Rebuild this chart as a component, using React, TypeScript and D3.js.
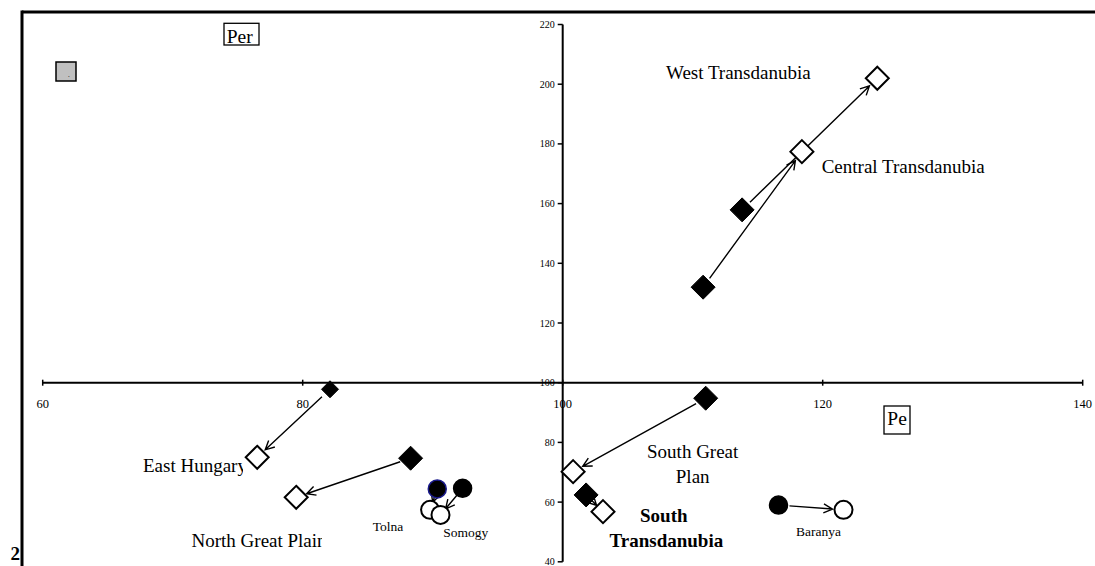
import * as d3 from 'd3';

// Regions (diamonds): filled = earlier year, open = later year
const regionNames = ['West Transdanubia', 'Central Transdanubia', 'East Hungary', 'North Great Plain', 'South Great Plain', 'South Transdanubia'];
const regionFromX = [113.8, 110.8, 82.1, 88.3, 111.0, 101.8];
const regionFromY = [157.9, 132.0, 97.8, 74.7, 94.8, 62.4];
const regionToX = [124.2, 118.4, 76.5, 79.5, 100.8, 103.1];
const regionToY = [202.0, 177.4, 75.0, 61.6, 70.2, 56.8];

// Counties (circles)
const countyNames = ['Tolna', 'Somogy', 'Baranya'];
const countyFromX = [90.35, 92.3, 116.6];
const countyFromY = [64.4, 64.6, 59.0];
const countyToX = [89.8, 90.6, 121.6];
const countyToY = [57.4, 55.7, 57.4];

const xTicks = [60, 80, 100, 120, 140];
const yTicks = [40, 60, 80, 100, 120, 140, 160, 180, 200, 220];

const W = 1095;
const H = 566;
const FONT = '"Liberation Serif", "Times New Roman", serif';

const x = d3.scaleLinear().domain([60, 140]).range([42.7, 1082.7]);
const y = d3.scaleLinear().domain([40, 220]).range([561.8, 24.5]);

function arrow(x0: number, y0: number, x1: number, y1: number, s: number, e: number) {
    const dx = x1 - x0;
    const dy = y1 - y0;
    const len = Math.sqrt(dx * dx + dy * dy);
    const ux = dx / len;
    const uy = dy / len;
    const ax = x0 + ux * s;
    const ay = y0 + uy * s;
    const bx = x1 - ux * e;
    const by = y1 - uy * e;
    const a = (27 * Math.PI) / 180;
    const L = 10;
    const ang = Math.atan2(-uy, -ux);
    const p1 = [bx + L * Math.cos(ang + a), by + L * Math.sin(ang + a)];
    const p2 = [bx + L * Math.cos(ang - a), by + L * Math.sin(ang - a)];
    const path = d3.path();
    path.moveTo(ax, ay);
    path.lineTo(bx, by);
    path.moveTo(p1[0], p1[1]);
    path.lineTo(bx, by);
    path.lineTo(p2[0], p2[1]);
    return path.toString();
}

function diamond(cx: number, cy: number, r: number) {
    return `M${cx},${cy - r}L${cx + r},${cy}L${cx},${cy + r}L${cx - r},${cy}Z`;
}

export default function App() {
    const lineStyle = { fill: 'none', stroke: '#000', strokeWidth: 1.4 };
    return (
        <svg width={W} height={H} style={{ position: 'absolute', left: 0, top: 0, background: '#fff' }} fontFamily={FONT}>
            <defs>
                <clipPath id='clipEH'><rect x={0} y={0} width={243} height={H} /></clipPath>
                <clipPath id='clipNGP'><rect x={0} y={0} width={322} height={H} /></clipPath>
            </defs>
            <rect x={0} y={0} width={W} height={H} fill='#fff' />

            {/* frame */}
            <line x1={22} y1={12} x2={W} y2={12} stroke='#000' strokeWidth={3} />
            <line x1={22} y1={10.5} x2={22} y2={H} stroke='#000' strokeWidth={3} />
            <text x={10.5} y={560} fontSize={19} fontWeight='bold'>2</text>

            {/* x axis */}
            <line x1={x(60)} y1={y(100)} x2={x(140)} y2={y(100)} stroke='#000' strokeWidth={2} />
            {xTicks.map(t => (
                <g key={'xt' + t}>
                    <line x1={x(t)} y1={y(100) - 3} x2={x(t)} y2={y(100) + 3} stroke='#000' strokeWidth={1.5} />
                    <text x={x(t)} y={408} fontSize={12.5} textAnchor='middle'>{t}</text>
                </g>
            ))}

            {/* y axis */}
            <line x1={x(100)} y1={y(40)} x2={x(100)} y2={y(220)} stroke='#000' strokeWidth={2} />
            {yTicks.map(t => (
                <g key={'yt' + t}>
                    <line x1={x(100) - 5} y1={y(t)} x2={x(100)} y2={y(t)} stroke='#000' strokeWidth={1.5} />
                    <text x={x(100) - 8} y={y(t) + 3.5} fontSize={10} textAnchor='end'>{t}</text>
                </g>
            ))}

            {/* arrows */}
            {regionNames.map((n, i) => {
                const x0 = x(regionFromX[i]), y0 = y(regionFromY[i]);
                const x1 = x(regionToX[i]), y1 = y(regionToY[i]);
                const d = Math.hypot(x1 - x0, y1 - y0);
                const s = d < 40 ? 8 : 11;
                const e = d < 40 ? 9 : 11;
                return <path key={'ra' + n} d={arrow(x0, y0, x1, y1, s, e)} {...lineStyle} />;
            })}
            {countyNames.map((n, i) => {
                const x0 = x(countyFromX[i]), y0 = y(countyFromY[i]);
                const x1 = x(countyToX[i]), y1 = y(countyToY[i]);
                const d = Math.hypot(x1 - x0, y1 - y0);
                const s = d < 40 ? 4 : 11;
                const e = d < 40 ? 8 : 11;
                return <path key={'ca' + n} d={arrow(x0, y0, x1, y1, s, e)} {...lineStyle} />;
            })}

            {/* open markers (later year) */}
            {regionNames.map((n, i) => (
                <path key={'ro' + n} d={diamond(x(regionToX[i]), y(regionToY[i]), 11.5)} fill='#fff' stroke='#000' strokeWidth={2} />
            ))}
            {countyNames.map((n, i) => (
                <circle key={'co' + n} cx={x(countyToX[i])} cy={y(countyToY[i])} r={9} fill='#fff' stroke='#000' strokeWidth={2} />
            ))}

            {/* filled markers (earlier year) */}
            {regionNames.map((n, i) => (
                <path key={'rf' + n} d={diamond(x(regionFromX[i]), y(regionFromY[i]), n === 'East Hungary' ? 8.5 : 12)} fill='#000' stroke='#000' strokeWidth={1} />
            ))}
            {countyNames.map((n, i) => (
                <circle key={'cf' + n} cx={x(countyFromX[i])} cy={y(countyFromY[i])} r={9} fill='#000' stroke={n === 'Tolna' ? '#1a1a8c' : '#000'} strokeWidth={1.5} />
            ))}

            {/* labels */}
            <g fontSize={19}>
                <text x={666} y={78.5}>West Transdanubia</text>
                <text x={821.7} y={173.3}>Central Transdanubia</text>
                <text x={143} y={472} clipPath='url(#clipEH)'>East Hungary</text>
                <text x={191.5} y={547} clipPath='url(#clipNGP)'>North Great Plain</text>
                <text x={692.7} y={458.3} textAnchor='middle'>South Great</text>
                <text x={692.7} y={483.3} textAnchor='middle'>Plan</text>
                <text x={640} y={521.7} fontWeight='bold'>South</text>
                <text x={609.5} y={546.7} fontWeight='bold'>Transdanubia</text>
            </g>
            <g fontSize={13.5}>
                <text x={372.7} y={530.7}>Tolna</text>
                <text x={443.3} y={536.5}>Somogy</text>
                <text x={796} y={536}>Baranya</text>
            </g>

            {/* axis name boxes */}
            <rect x={224} y={23.3} width={35} height={21.7} fill='#fff' stroke='#000' strokeWidth={1.3} />
            <text x={226.7} y={42.5} fontSize={19.5}>Per</text>
            <rect x={884} y={406} width={26} height={28} fill='#fff' stroke='#000' strokeWidth={1.3} />
            <text x={887.3} y={425} fontSize={19.5}>Pe</text>

            {/* legend swatch */}
            <rect x={56} y={62} width={20} height={19} fill='#c0c0c0' stroke='#000' strokeWidth={1.5} />
            <text x={68} y={77} fontSize={7}>.</text>
        </svg>
    );
}
